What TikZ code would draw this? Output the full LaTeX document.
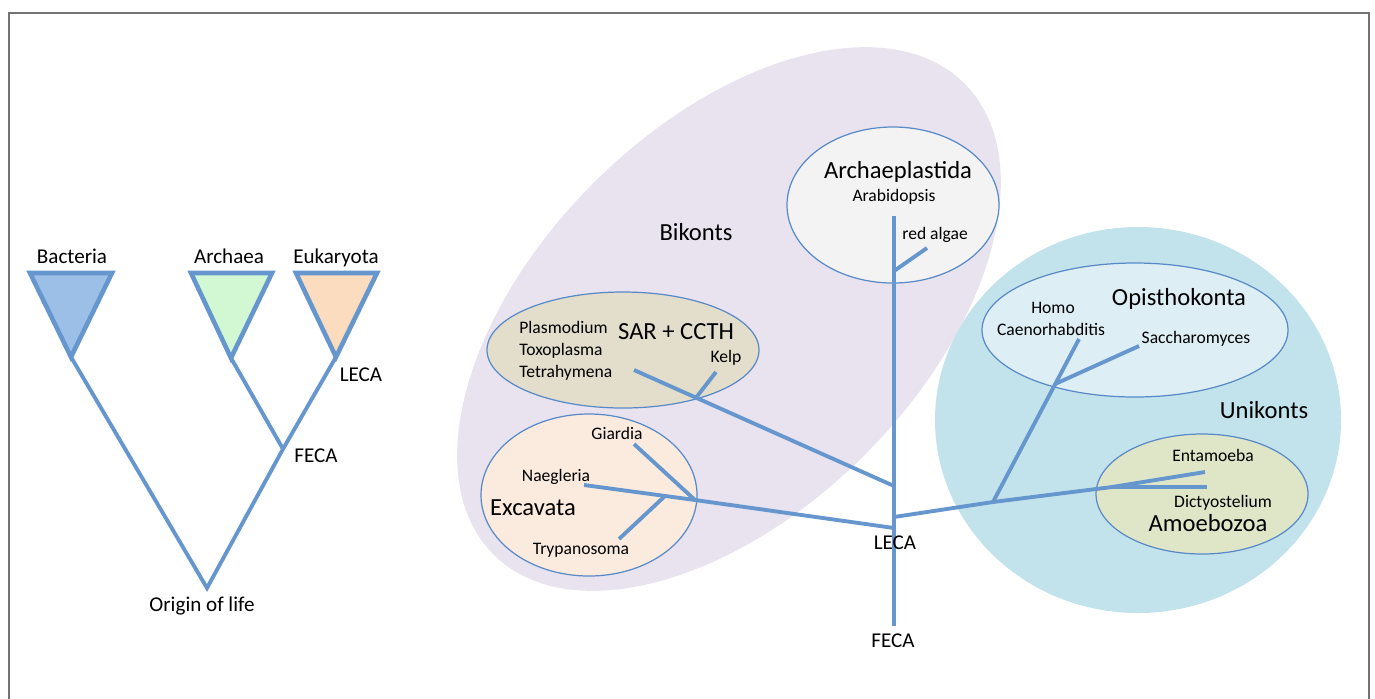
\documentclass[tikz,border=0pt]{standalone}
\usepackage{fontspec}
\setmainfont{Carlito}
\usetikzlibrary{positioning}
\definecolor{lineblue}{RGB}{101,150,206}
\definecolor{edgeblue}{RGB}{88,138,200}
\definecolor{bikontfill}{RGB}{232,227,238}
\definecolor{unikontfill}{RGB}{195,227,236}
\definecolor{plastfill}{RGB}{243,243,243}
\definecolor{sarfill}{RGB}{226,222,203}
\definecolor{excfill}{RGB}{251,235,222}
\definecolor{opifill}{RGB}{221,238,245}
\definecolor{amofill}{RGB}{223,230,200}
\definecolor{bacfill}{RGB}{156,191,231}
\definecolor{arcfill}{RGB}{209,248,210}
\definecolor{eukfill}{RGB}{251,220,190}

\begin{document}
\begin{tikzpicture}[
			x=0.02cm, y=-0.02cm,
			MyBranch/.style={draw=lineblue, line width=2.2pt},
			MyTri/.style={draw=lineblue, line width=2.6pt},
			MyClade/.style={draw=edgeblue, line width=0.7pt},
			MySmall/.style={anchor=base, inner sep=0pt, font=\fontsize{10}{12}\selectfont},
			MyMid/.style={anchor=base, inner sep=0pt, font=\fontsize{12}{14}\selectfont},
			MyBig/.style={anchor=base, inner sep=0pt, font=\fontsize{14}{17}\selectfont},
			]
			\useasboundingbox (0,0) rectangle (1375,698);
			\draw[black!55, line width=1.1pt] (9,13) rectangle (1369,720);
			
			% left tree
			\coordinate (bacTip) at (71,357);
			\coordinate (arcTip) at (231,358);
			\coordinate (eukTip) at (336,357);
			\coordinate (feca) at (283,449);
			\coordinate (origin) at (207,588);
			\draw[MyBranch] (bacTip) -- (origin) -- (feca) -- (eukTip);
			\draw[MyBranch] (arcTip) -- (feca);
			\filldraw[MyTri, fill=bacfill] (30,273) -- (112,273) -- (bacTip) -- cycle;
			\filldraw[MyTri, fill=arcfill] (191,273) -- (272,273) -- (arcTip) -- cycle;
			\filldraw[MyTri, fill=eukfill] (296,273) -- (377,273) -- (eukTip) -- cycle;
			\node [MyMid] (bacteria) at (72,263) {Bacteria};
			\node [MyMid] (archaea) at (229,263) {Archaea};
			\node [MyMid] (eukaryota) at (336,263) {Eukaryota};
			\node [MyMid] (lecaL) at (361,381) {LECA};
			\node [MyMid] (fecaL) at (316,462) {FECA};
			\node [MyMid] (originL) at (202,611) {Origin of life};
			
			% supergroups
			\fill[bikontfill, rotate around={45:(729,319)}] (729,319) ellipse [x radius=333, y radius=192];
			\fill[unikontfill] (1138,420) ellipse [x radius=203, y radius=193];
			\filldraw[MyClade, fill=plastfill] (893,205) ellipse [x radius=106, y radius=78];
			\filldraw[MyClade, fill=sarfill] (623,350) ellipse [x radius=136, y radius=58];
			\filldraw[MyClade, fill=excfill] (589,495) ellipse [x radius=108, y radius=81];
			\filldraw[MyClade, fill=opifill] (1135,330) ellipse [x radius=153, y radius=67];
			\filldraw[MyClade, fill=amofill] (1202,494) ellipse [x radius=106, y radius=60];
			
			% right tree
			\coordinate (vTop) at (894,216);
			\coordinate (vBot) at (894,626);
			\coordinate (raJ) at (894,271);
			\coordinate (raTip) at (927,248);
			\coordinate (sarJ) at (894,486);
			\coordinate (tetraTip) at (634,370);
			\coordinate (kelpJ) at (696,397.7);
			\coordinate (kelpTip) at (716,372);
			\coordinate (excJ) at (894,528);
			\coordinate (giaJ) at (695,500);
			\coordinate (giaTip) at (634,444);
			\coordinate (naeTip) at (584,485);
			\coordinate (tryJ) at (665,496);
			\coordinate (tryTip) at (619,539);
			\coordinate (uniJ) at (894,517);
			\coordinate (uniK) at (993,502);
			\coordinate (opiJ) at (1055,384);
			\coordinate (homoTip) at (1079,339);
			\coordinate (sacTip) at (1139,346);
			\coordinate (amoJ) at (1112,487);
			\coordinate (entTip) at (1205,472);
			\coordinate (dicTip) at (1207,487);
			\draw[MyBranch] (vTop) -- (vBot);
			\draw[MyBranch] (raJ) -- (raTip);
			\draw[MyBranch] (tetraTip) -- (sarJ);
			\draw[MyBranch] (kelpJ) -- (kelpTip);
			\draw[MyBranch] (naeTip) -- (giaJ) -- (excJ);
			\draw[MyBranch] (giaTip) -- (giaJ);
			\draw[MyBranch] (tryTip) -- (tryJ);
			\draw[MyBranch] (uniJ) -- (uniK) -- (amoJ) -- (entTip);
			\draw[MyBranch] (amoJ) -- (dicTip);
			\draw[MyBranch] (uniK) -- (homoTip);
			\draw[MyBranch] (opiJ) -- (sacTip);
			
			\node [MyBig] (bikonts) at (696,240) {Bikonts};
			\node [MyBig] (unikonts) at (1264,418) {Unikonts};
			\node [MyBig] (plastida) at (898,178) {Archaeplastida};
			\node [MySmall] (arabidopsis) at (894,201) {Arabidopsis};
			\node [MySmall, anchor=base west] (redalgae) at (902,239) {red algae};
			\node [MySmall, anchor=base west] (plasmodium) at (519,333) {Plasmodium};
			\node [MySmall, anchor=base west] (toxoplasma) at (519,355) {Toxoplasma};
			\node [MySmall, anchor=base west] (tetrahymena) at (519,377) {Tetrahymena};
			\node [MyBig] (sar) at (676,339) {SAR + CCTH};
			\node [MySmall] (kelp) at (726,362) {Kelp};
			\node [MySmall] (giardia) at (617,439) {Giardia};
			\node [MySmall] (naegleria) at (556,481) {Naegleria};
			\node [MyBig] (excavata) at (533,515) {Excavata};
			\node [MySmall] (trypanosoma) at (581,554) {Trypanosoma};
			\node [MyMid] (lecaR) at (895,549) {LECA};
			\node [MyMid] (fecaR) at (893,647) {FECA};
			\node [MySmall] (homo) at (1053,313) {Homo};
			\node [MySmall] (caeno) at (1051,335) {Caenorhabditis};
			\node [MyBig] (opistho) at (1179,305) {Opisthokonta};
			\node [MySmall] (sacch) at (1196,343) {Saccharomyces};
			\node [MySmall] (entamoeba) at (1213,461) {Entamoeba};
			\node [MySmall] (dictyo) at (1223,507) {Dictyostelium};
			\node [MyBig] (amoebozoa) at (1208,531) {Amoebozoa};
		\end{tikzpicture}
\end{document}
